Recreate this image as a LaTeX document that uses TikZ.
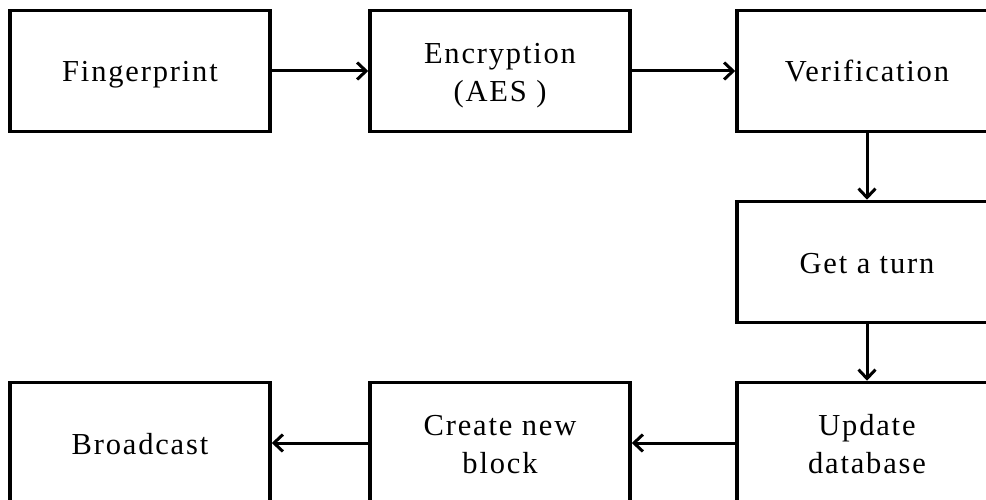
\documentclass[tikz,border=0pt]{standalone}
\usepackage{fontspec}
\setmainfont{Liberation Serif}[LetterSpace=6]
\usetikzlibrary{arrows.meta}
\begin{document}
\begin{tikzpicture}[x=1pt,y=-1pt,
  stepbox/.style={draw=black, line width=3.5pt, fill=white,
    minimum width=260pt, minimum height=121pt, inner sep=0pt,
    align=center, font=\fontsize{30.5}{38}\selectfont,
    text height=26pt, text depth=4pt},
  twoline/.style={text height=63pt, text depth=2pt},
  flow/.style={line width=3pt,
    -{Straight Barb[length=9pt,width=17pt,line width=3pt]}}]
\useasboundingbox (0,0) rectangle (986,500);
\clip (0,0) rectangle (986,500);
% top row
\node[stepbox] (fp)  at (140,71) {Fingerprint};
\node[stepbox,twoline] (enc) at (500,71) {Encryption\\(AES )};
\node[stepbox] (ver) at (867,71) {Verification};
% right column
\node[stepbox] (turn) at (867,262) {Get a turn};
\node[stepbox,twoline] (upd)  at (867,443) {Update\\database};
% bottom row
\node[stepbox,twoline] (blk) at (500,443) {Create new\\block};
\node[stepbox] (bc)  at (140,443) {Broadcast};
% connectors
\draw[flow] (fp) -- (enc);
\draw[flow] (enc) -- (ver);
\draw[flow] (ver) -- (turn);
\draw[flow] (turn) -- (upd);
\draw[flow] (upd) -- (blk);
\draw[flow] (blk) -- (bc);
\end{tikzpicture}
\end{document}
